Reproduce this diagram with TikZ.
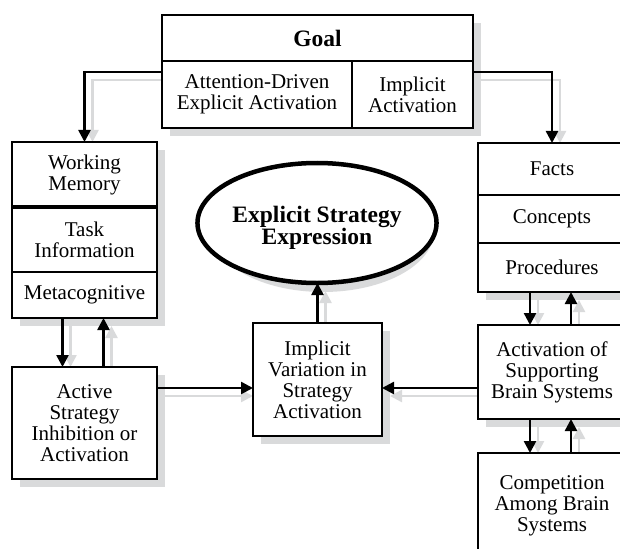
\documentclass[tikz,border=0pt]{standalone}
\usepackage{fontspec}
\setmainfont{Liberation Serif}
\usetikzlibrary{arrows.meta,calc,shapes.geometric}
\pgfdeclarelayer{bg}
\pgfsetlayers{bg,main}
\definecolor{shd}{HTML}{D9DADB}
\tikzset{
 cell/.style={draw=black, line width=2.5pt, fill=white, inner sep=0pt, outer sep=0pt,
   anchor=north west, align=center, font=\fontsize{21}{21}\selectfont},
 boldtext/.style={font=\fontsize{23.5}{22}\selectfont\bfseries},
 arr/.style={line width=2.5pt, -{Triangle[length=12pt,width=12pt]}},
 garr/.style={arr, color=shd},
 shadowfill/.style={fill=shd, draw=none},
}
\begin{document}
\begin{tikzpicture}[x=1pt,y=-1pt]
\useasboundingbox (0,0) rectangle (620,548);
% top goal box
\node[cell, boldtext, minimum width=311pt, minimum height=46pt] (goal) at (162,15) {Goal};
\node[cell, minimum width=190pt, minimum height=67pt] (attn) at (162,61) {Attention-Driven\\Explicit Activation};
\node[cell, minimum width=121pt, minimum height=67pt] (impl) at (352,61) {Implicit\\Activation};
% left stack
\node[cell, minimum width=145pt, minimum height=65pt] (wm) at (12,142) {Working\\Memory};
\node[cell, minimum width=145pt, minimum height=65pt] (task) at (12,207) {Task\\Information};
\node[cell, minimum width=145pt, minimum height=46pt] (meta) at (12,272) {Metacognitive};
\draw[line width=4.5pt] (wm.south west) -- (wm.south east);
\node[cell, minimum width=145pt, minimum height=112pt] (active) at (12,367) {Active\\Strategy\\Inhibition or\\Activation};
% centre
\node[cell, minimum width=129pt, minimum height=113pt] (ivar) at (253,323) {Implicit\\Variation in\\Strategy\\Activation};
\node[ellipse, draw=black, line width=4.5pt, fill=white, inner sep=0pt, outer sep=0pt,
      minimum width=219pt, minimum height=120pt, align=center, boldtext] (ell) at (317,223) {\rule{0pt}{27pt}Explicit Strategy\\Expression};
% right stack
\node[cell, minimum width=148pt, minimum height=52pt] (facts) at (478,143) {Facts};
\node[cell, minimum width=148pt, minimum height=48pt] (conc) at (478,195) {Concepts};
\node[cell, minimum width=148pt, minimum height=49pt] (proc) at (478,243) {Procedures};
\node[cell, minimum width=148pt, minimum height=94pt] (act) at (478,325) {Activation of\\Supporting\\Brain Systems};
\node[cell, minimum width=148pt, minimum height=105pt] (comp) at (478,453) {Competition\\Among Brain\\Systems};
% helper coordinates
\coordinate (h1) at ($(active.north east)+(0,21)$);
\coordinate (h1e) at (h1 -| ivar.west);
\coordinate (h2) at ($(act.north west)+(0,63)$);
\coordinate (h2e) at (h2 -| ivar.east);
\coordinate (eb) at (ivar.north |- ell.south);
% black arrows
\draw[arr] ($(attn.north west)+(0,11)$) -| (wm.north);
\draw[arr] ($(impl.north east)+(0,11)$) -| (facts.north);
\draw[arr] ($(meta.south)+(-22,0)$) -- ($(active.north)+(-22,0)$);
\draw[arr] ($(active.north)+(19,0)$) -- ($(meta.south)+(19,0)$);
\draw[arr] (h1) -- (h1e);
\draw[arr] (h2) -- (h2e);
\draw[arr] (ivar.north) -- (eb);
\draw[arr] ($(proc.south)+(-22,0)$) -- ($(act.north)+(-22,0)$);
\draw[arr] ($(act.north)+(19,0)$) -- ($(proc.south)+(19,0)$);
\draw[arr] ($(act.south)+(-22,0)$) -- ($(comp.north)+(-22,0)$);
\draw[arr] ($(comp.north)+(19,0)$) -- ($(act.south)+(19,0)$);
% shadows and grey arrows
\begin{pgfonlayer}{bg}
\fill[shadowfill] ($(goal.north west)+(8,8)$) rectangle ($(impl.south east)+(8,8)$);
\fill[shadowfill] ($(wm.north west)+(8,8)$) rectangle ($(meta.south east)+(8,8)$);
\fill[shadowfill] ($(active.north west)+(8,8)$) rectangle ($(active.south east)+(8,8)$);
\fill[shadowfill] ($(ivar.north west)+(8,8)$) rectangle ($(ivar.south east)+(8,8)$);
\fill[shadowfill] ($(facts.north west)+(8,8)$) rectangle ($(proc.south east)+(8,8)$);
\fill[shadowfill] ($(act.north west)+(8,8)$) rectangle ($(act.south east)+(8,8)$);
\fill[shadowfill] ($(comp.north west)+(8,8)$) rectangle ($(comp.south east)+(8,8)$);
\fill[shadowfill] ($(ell.center)+(6,8)$) ellipse [x radius=111pt, y radius=61pt];
\draw[garr] ($(attn.north west)+(8,19)$) -| ($(wm.north)+(8,0)$);
\draw[garr] ($(impl.north east)+(8,19)$) -| ($(facts.north)+(8,0)$);
\draw[garr] ($(meta.south)+(-14,8)$) -- ($(active.north)+(-14,0)$);
\draw[garr] ($(active.north)+(27,0)$) -- ($(meta.south)+(27,8)$);
\draw[garr] ($(h1)+(8,8)$) -- ($(h1e)+(0,8)$);
\draw[garr] ($(h2)+(0,8)$) -- ($(h2e)+(8,8)$);
\draw[garr] ($(ivar.north)+(8,0)$) -- ($(eb)+(8,8)$);
\draw[garr] ($(proc.south)+(-14,8)$) -- ($(act.north)+(-14,0)$);
\draw[garr] ($(act.north)+(27,0)$) -- ($(proc.south)+(27,8)$);
\draw[garr] ($(act.south)+(-14,8)$) -- ($(comp.north)+(-14,0)$);
\draw[garr] ($(comp.north)+(27,0)$) -- ($(act.south)+(27,8)$);
\end{pgfonlayer}
\end{tikzpicture}
\end{document}
